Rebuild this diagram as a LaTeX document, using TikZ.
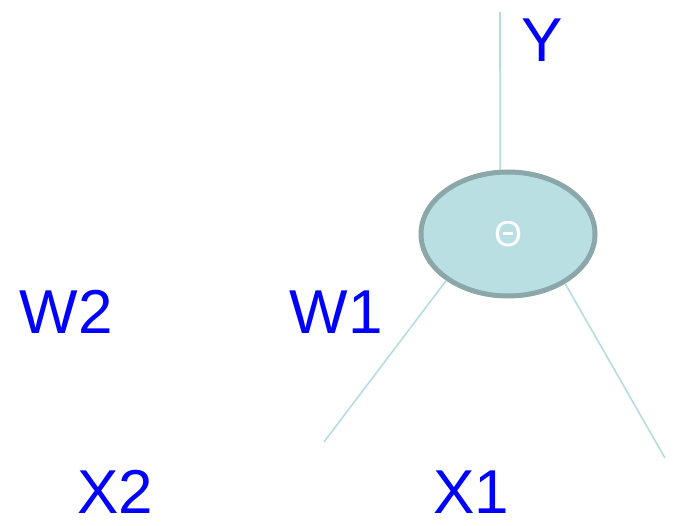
\documentclass[tikz,border=0pt]{standalone}
\usepackage{fontspec}
\setmainfont{Liberation Sans}
\usetikzlibrary{shapes.geometric}
\definecolor{nodefill}{HTML}{B9DFE3}
\definecolor{nodeedge}{HTML}{8BA7AA}
\definecolor{wire}{HTML}{B5DDE0}
\definecolor{labelblue}{HTML}{0000FF}

\begin{document}
\begin{tikzpicture}[
  x=1pt, y=-1pt,
  param/.style={
    draw=nodeedge, fill=nodefill, ellipse, line width=5pt,
    minimum width=174pt, minimum height=124pt, inner sep=0pt,
    text=white, font=\fontsize{36}{42}\selectfont
  },
  varlabel/.style={
    text=labelblue, inner sep=0pt, font=\fontsize{62}{72}\selectfont
  },
  link/.style={draw=wire, line width=1.6pt}
]
\useasboundingbox (0,0) rectangle (682,526);

% Parameter node
\node[param] (theta) at (508,234) {Θ};

% Variable labels
\node[varlabel] (y) at (542,40) {Y};
\node[varlabel] (w2) at (66,312) {W2};
\node[varlabel] (w1) at (336,312) {W1};
\node[varlabel] (x2) at (115,492) {X2};
\node[varlabel] (x1) at (471,492) {X1};

% Free ends of the wires
\coordinate (top) at (500,12);
\coordinate (left) at (324,442);
\coordinate (right) at (665,458);

% Wires
\draw[link] (theta.97) -- (top);
\draw[link] (theta.217) -- (left);
\draw[link] (theta.319) -- (right);

\end{tikzpicture}
\end{document}
